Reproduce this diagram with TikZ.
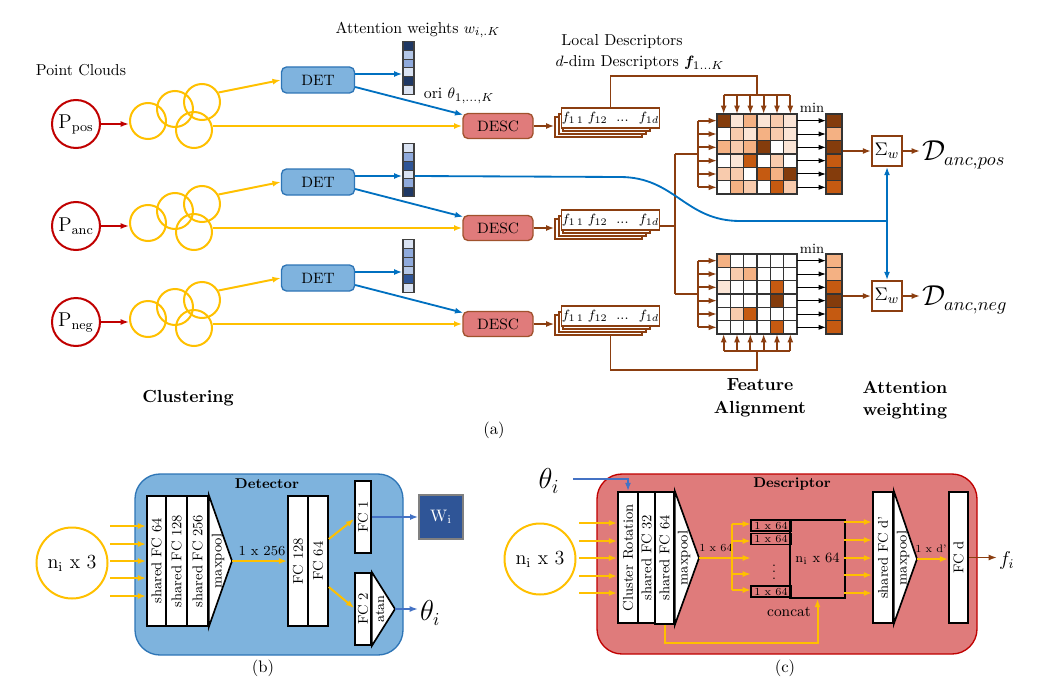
\documentclass[tikz,border=0pt]{standalone}
\usepackage{bm}
\usetikzlibrary{arrows.meta,calc}

% palette
\definecolor{cyel}{HTML}{FFC000}
\definecolor{cred}{HTML}{C00000}
\definecolor{cblue}{HTML}{0070C0}
\definecolor{cbluetwo}{HTML}{4472C4}
\definecolor{detfill}{HTML}{7FB3DE}
\definecolor{detline}{HTML}{2E75B6}
\definecolor{descfill}{HTML}{E07B7B}
\definecolor{descline}{HTML}{A0522D}
\definecolor{cbrown}{HTML}{8B3E10}
\definecolor{mx0}{HTML}{FFFFFF}
\definecolor{mx1}{HTML}{FBE5D6}
\definecolor{mx2}{HTML}{F8CBAD}
\definecolor{mx3}{HTML}{F4B183}
\definecolor{mx4}{HTML}{C55A11}
\definecolor{mx5}{HTML}{843C0C}
\definecolor{wt1}{HTML}{DAE3F3}
\definecolor{wt2}{HTML}{B4C7E7}
\definecolor{wt3}{HTML}{8FAADC}
\definecolor{wt4}{HTML}{2F5597}
\definecolor{wt5}{HTML}{1F3864}
\definecolor{panelb}{HTML}{7EB3DD}
\definecolor{panelr}{HTML}{DF7B7B}

\newcommand\pxu{0.6pt}
\newcommand\fsz[1]{\fontsize{#1}{#1}\selectfont}

\tikzset{
  every node/.style={font=\fsz{9.5}},
  arw/.style={-{Latex[length=5pt,width=3.6pt]}},
  yarr/.style={arw, draw=cyel, line width=1.2pt},
  yline/.style={draw=cyel, line width=1.2pt},
  rarr/.style={arw, draw=cred, line width=1.2pt},
  barr/.style={arw, draw=cblue, line width=1.1pt},
  bline/.style={draw=cblue, line width=1.1pt},
  btarr/.style={arw, draw=cbluetwo, line width=1.1pt},
  brarr/.style={arw, draw=cbrown, line width=1.1pt},
  brline/.style={draw=cbrown, line width=1.1pt},
  karr/.style={-{Latex[length=4.5pt,width=3.2pt]}, draw=black, line width=0.6pt},
  pcirc/.style={circle, draw=cred, line width=1.2pt, minimum size=48*\pxu, inner sep=0pt, font=\fsz{11.5}},
  clus/.style={circle, draw=cyel, line width=1.2pt, minimum size=36*\pxu, inner sep=0pt},
  detbox/.style={rectangle, rounded corners=3pt, draw=detline, fill=detfill, line width=0.8pt,
    minimum width=73*\pxu, minimum height=26*\pxu, font=\fsz{9}},
  descbox/.style={rectangle, rounded corners=3pt, draw=descline, fill=descfill, line width=0.8pt,
    minimum width=70*\pxu, minimum height=25*\pxu, font=\fsz{9}},
  stkbox/.style={draw=cbrown, fill=white, line width=0.7pt, minimum width=87*\pxu,
    minimum height=20*\pxu, inner sep=0pt},
  cellrule/.style={draw=black!75, line width=0.6pt},
  wbar/.style={draw=black!75, line width=0.7pt, minimum width=11*\pxu, minimum height=53*\pxu, inner sep=0pt},
  mgrid/.style={draw=black!80, line width=0.7pt},
  sigbox/.style={draw=cbrown, fill=white, line width=1pt, minimum size=30*\pxu, inner sep=0pt, font=\fsz{11}},
  panelbox/.style={rounded corners=15pt, line width=0.8pt, inner sep=0pt},
  blk/.style={draw=black, fill=white, line width=1pt, inner sep=0pt, font=\fsz{8.5}},
  tri/.style={draw=black, fill=white, line width=1pt, line join=miter},
  sbox/.style={draw=black, line width=0.8pt, minimum width=40*\pxu, minimum height=11*\pxu,
    inner sep=0pt, font=\fsz{6.5}},
  ncirc/.style={circle, draw=cyel, line width=1.2pt, minimum size=71*\pxu, inner sep=0pt, font=\fsz{12}},
  bold/.style={font=\bfseries\fontsize{10.5}{13.5}\selectfont, align=center}
}

% one input branch: point cloud, clustering, detector, descriptor, weight bar, descriptor stack
\newcommand\pipeline[4]{%
  \node[pcirc] (P#1) at (76,#2) {$\mathrm{P}_{\mathrm{#3}}$};
  \node[clus] (K#1a) at (148,#2-3) {};
  \node[clus] (K#1b) at (175,#2-15) {};
  \node[clus] (K#1c) at (202,#2-22) {};
  \node[clus] (K#1d) at (194,#2+6) {};
  \draw[rarr] (P#1.east) -- (P#1.east -| K#1a.west);
  \node[detbox] (det#1) at (318,#2-44) {DET};
  \node[descbox] (desc#1) at (498,#2+2) {DESC};
  \draw[yarr] (K#1c.30) -- (det#1.west);
  \draw[yarr] (K#1d.east |- desc#1.west) -- (desc#1.west);
  \foreach \wc [count=\kk] in {#4}
    \fill[\wc] (403,{#2-82.5+(\kk-1)*8.833}) rectangle ++(11,8.833);
  \foreach \kk in {1,...,5}
    \draw[cellrule] (403,{#2-82.5+\kk*8.833}) -- ++(11,0);
  \node[wbar] (w#1) at (408.5,#2-56) {};
  \coordinate (det#1o) at ($(det#1.east)+(0,-6)$);
  \draw[barr] (det#1o) -- (det#1o -| w#1.west);
  \draw[barr] ($(det#1.east)+(0,7)$) -- ($(desc#1.north west)+(1,2)$);
  \foreach \kk in {3,2,1}
    \node[stkbox] (stk#1\kk) at ($(610.5,#2-6)+(-4*\kk,3*\kk)$) {};
  \node[stkbox, font=\fsz{8.5}] (stk#1) at (610.5,#2-6) {$f_{1\,1}\;f_{12}$\; ... \;$f_{1d}$};
  \draw[brarr] (desc#1.east) -- (desc#1.east -| stk#13.west);
}

% 6x6 distance matrix
\newcommand\heatmap[4]{%
  \foreach \rw [count=\ri] in {#4} {
    \foreach \cc [count=\ci] in \rw {
      \fill[\cc] ({#2+(\ci-1)*13.333},{#3+(\ri-1)*13.333}) rectangle ++(13.333,13.333);
    }
  }
  \foreach \kk in {1,...,5} {
    \draw[mgrid] ({#2+\kk*13.333},#3) -- ++(0,80);
    \draw[mgrid] (#2,{#3+\kk*13.333}) -- ++(80,0);
  }
  \node[mgrid, minimum width=80*\pxu, minimum height=80*\pxu, inner sep=0pt] (#1) at (#2+40,#3+40) {};
}

% column of minima
\newcommand\colvec[4]{%
  \foreach \cc [count=\ci] in {#4}
    \fill[\cc] (#2,{#3+(\ci-1)*13.333}) rectangle ++(16,13.333);
  \foreach \kk in {1,...,5}
    \draw[mgrid] (#2,{#3+\kk*13.333}) -- ++(16,0);
  \node[mgrid, minimum width=16*\pxu, minimum height=80*\pxu, inner sep=0pt] (#1) at (#2+8,#3+40) {};
}

\begin{document}
\begin{tikzpicture}[x=0.6pt,y=-0.6pt]
\useasboundingbox (0,0) rectangle (1041,693);

% ---------------- (a) overview ----------------
\node (ptc) at (81,70) {Point Clouds};
\node (attl) at (418,30) {Attention weights $w_{i,.K}$};
\node (locl) at (622,42) {Local Descriptors};
\node (ddl) at (640,63) {$d$-dim Descriptors $\bm{f}_{1\dots K}$};

\pipeline{A}{124}{pos}{wt5,wt2,wt3,wt1,wt5,wt1}
\pipeline{B}{226}{anc}{wt1,wt3,wt4,wt1,wt3,wt5}
\pipeline{C}{322}{neg}{wt1,wt3,wt3,wt2,wt4,wt1}

\node[font=\fsz{9.5}] (oril) at (459,96) {ori $\theta_{1,\dots,K}$};

% feature alignment matrices
\heatmap{mA}{717}{114}{{mx5,mx1,mx3,mx1,mx2,mx1},{mx0,mx2,mx1,mx3,mx2,mx1},{mx3,mx2,mx3,mx5,mx0,mx1},{mx0,mx1,mx4,mx0,mx2,mx0},{mx2,mx2,mx0,mx4,mx3,mx5},{mx0,mx3,mx2,mx0,mx4,mx2}}
\heatmap{mC}{717}{254}{{mx3,mx0,mx0,mx0,mx0,mx0},{mx0,mx2,mx3,mx0,mx0,mx0},{mx1,mx0,mx0,mx0,mx4,mx0},{mx0,mx0,mx0,mx0,mx5,mx0},{mx0,mx2,mx4,mx0,mx0,mx0},{mx0,mx0,mx0,mx0,mx4,mx0}}
\colvec{vA}{826}{114}{mx5,mx3,mx5,mx4,mx5,mx4}
\colvec{vC}{826}{254}{mx3,mx3,mx4,mx5,mx4,mx4}

\node[font=\fsz{8.5}] (minA) at (812,108) {min};
\node[font=\fsz{8.5}] (minC) at (812,249) {min};
\foreach \kk in {1,...,6} {
  \draw[karr] (797,{114+(\kk-0.5)*13.333}) -- (826,{114+(\kk-0.5)*13.333});
  \draw[karr] (797,{254+(\kk-0.5)*13.333}) -- (826,{254+(\kk-0.5)*13.333});
}

% anchor descriptors to both matrices (rows)
\coordinate (brB) at (675,226);
\draw[brline] ($(stkB.east)+(0,6)$) -- (brB);
\draw[brline] (675,154) -- (675,294);
\draw[brline] (675,154) -- (698,154);
\draw[brline] (675,294) -- (698,294);
\draw[brline] (698,120.67) -- (698,187.33);
\draw[brline] (698,260.67) -- (698,327.33);
\foreach \kk in {1,...,6} {
  \draw[brarr] (698,{114+(\kk-0.5)*13.333}) -- (717,{114+(\kk-0.5)*13.333});
  \draw[brarr] (698,{254+(\kk-0.5)*13.333}) -- (717,{254+(\kk-0.5)*13.333});
}

% positive descriptors to top matrix (columns)
\coordinate (brA) at (757,95);
\draw[brline] (stkA.north) |- (757,76) -- (brA);
\draw[brline] (723.67,95) -- (790.33,95);
\foreach \kk in {1,...,6}
  \draw[brarr] ({717+(\kk-0.5)*13.333},95) -- ({717+(\kk-0.5)*13.333},114);

% negative descriptors to bottom matrix (columns)
\draw[brline] (stkC.north |- stkC3.south) |- (757,370) -- (757,351);
\draw[brline] (723.67,351) -- (790.33,351);
\foreach \kk in {1,...,6}
  \draw[brarr] ({717+(\kk-0.5)*13.333},351) -- ({717+(\kk-0.5)*13.333},334);

% attention weighting
\node[sigbox] (sA) at (887,151) {$\Sigma_w$};
\node[sigbox] (sC) at (887,296) {$\Sigma_w$};
\draw[brarr] (vA.east |- sA.west) -- (sA.west);
\draw[brarr] (vC.east |- sC.west) -- (sC.west);
\node[font=\fsz{16}, anchor=west, inner sep=1pt] (dA) at (920,155) {$\mathcal{D}_{anc,pos}$};
\node[font=\fsz{16}, anchor=west, inner sep=1pt] (dC) at (920,300) {$\mathcal{D}_{anc,neg}$};
\draw[brarr] (sA.east) -- (sA.east -| dA.west);
\draw[brarr] (sC.east) -- (sC.east -| dC.west);

\coordinate (jn) at (887,221);
\draw[bline] (wB.east |- detBo) -- (620,177) .. controls (675,177) and (685,221) .. (740,221) -- (jn);
\draw[barr] (jn) -- (sA.south);
\draw[barr] (jn) -- (sC.north);

\node[bold] (clu) at (188,398) {Clustering};
\node[bold] (fal) at (760,398) {Feature\\Alignment};
\node[bold] (awl) at (905,400) {Attention\\weighting};
\node[font=\fsz{10}] (capa) at (494,430) {(a)};

% ---------------- (b) detector ----------------
\node[panelbox, fill=panelb, draw=detline, minimum width=268*\pxu, minimum height=181*\pxu] (pb) at (269,564.5) {};
\node[font=\bfseries\fsz{8.5}] (pbt) at (267,484) {Detector};
\node[ncirc] (nB) at (72,563) {$\mathrm{n_i}$ x 3};

\node[blk, minimum width=19*\pxu, minimum height=130*\pxu] (bB1) at (156.5,561) {\rotatebox{90}{shared FC 64}};
\node[blk, minimum width=21*\pxu, minimum height=130*\pxu] (bB2) at (176.5,561) {\rotatebox{90}{shared FC 128}};
\node[blk, minimum width=21*\pxu, minimum height=130*\pxu] (bB3) at (197.5,561) {\rotatebox{90}{shared FC 256}};
\coordinate (apB) at (232,561);
\draw[tri] (bB3.north east) -- (apB) -- (bB3.south east) -- cycle;
\node[font=\fsz{8.5}] (mpB) at (218,561) {\rotatebox{90}{maxpool}};

\foreach \yy [count=\ii] in {526,544,561,578,596} {
  \coordinate (inB\ii) at (110,\yy);
  \draw[yarr] (inB\ii) -- (inB\ii -| bB1.west);
}

\node[blk, minimum width=20*\pxu, minimum height=130*\pxu] (fB1) at (298,561) {\rotatebox{90}{FC 128}};
\node[blk, minimum width=20*\pxu, minimum height=130*\pxu] (fB2) at (318,561) {\rotatebox{90}{FC 64}};
\draw[yarr] (apB) -- (fB1.west);
\node[font=\fsz{8.3}] (l256) at (262,551) {1 x 256};

\node[blk, minimum width=16*\pxu, minimum height=72*\pxu] (fc1) at (363,517) {\rotatebox{90}{FC 1}};
\node[blk, minimum width=16*\pxu, minimum height=72*\pxu] (fc2) at (363,609) {\rotatebox{90}{FC 2}};
\coordinate (apT) at (395,609);
\draw[tri] (fc2.north east) -- (apT) -- (fc2.south east) -- cycle;
\node[font=\fsz{8}] (atl) at (380,609) {\rotatebox{90}{atan}};
\draw[yarr] ($(fB2.east)+(0,-22)$) -- ($(fc1.west)+(0,2)$);
\draw[yarr] ($(fB2.east)+(0,26)$) -- ($(fc2.west)+(0,-1)$);

\node[draw=gray, line width=0.8pt, fill=wt4, minimum size=44*\pxu, text=white, font=\fsz{10}] (Wb) at (441,517) {$\mathrm{W_i}$};
\draw[btarr] (fc1.east) -- (Wb.west);
\node[font=\fsz{16}, anchor=west, inner sep=1pt] (thB) at (418,613) {$\theta_i$};
\draw[btarr] (apT) -- (apT -| thB.west);
\node[font=\fsz{10}] (capb) at (263,668) {(b)};

% ---------------- (c) descriptor ----------------
\node[panelbox, fill=panelr, draw=cred, minimum width=380*\pxu, minimum height=180*\pxu] (pc) at (787,564) {};
\node[font=\bfseries\fsz{8.5}] (pct) at (792,484) {Descriptor};
\node[font=\fsz{17}] (thC) at (549,481) {$\theta_i$};
\node[ncirc] (nC) at (540,559) {$\mathrm{n_i}$ x 3};

\node[blk, minimum width=20*\pxu, minimum height=131*\pxu] (cr) at (628,557.5) {\rotatebox{90}{Cluster Rotation}};
\node[blk, minimum width=17*\pxu, minimum height=131*\pxu] (s32) at (646.5,557.5) {\rotatebox{90}{shared FC 32}};
\node[blk, minimum width=19*\pxu, minimum height=132*\pxu] (s64) at (664.5,558) {\rotatebox{90}{shared FC 64}};
\coordinate (apC) at (699,558);
\draw[tri] (s64.north east) -- (apC) -- (s64.south east) -- cycle;
\node[font=\fsz{8.5}] (mpC) at (684,558) {\rotatebox{90}{maxpool}};

\coordinate (thCo) at (573,479);
\draw[btarr] (thCo) -| (cr.north);

\foreach \yy [count=\ii] in {523,541,558,576,593} {
  \coordinate (inC\ii) at (579,\yy);
  \draw[yarr] (inC\ii) -- (inC\ii -| cr.west);
}

\coordinate (brC) at (732,558);
\draw[yline] (apC) -- (brC);
\node[font=\fsz{6.5}] (l64) at (716,548) {1 x 64};
\draw[yline] (732,524) -- (732,590);
\foreach \yy [count=\ii] in {524,541,558,574,590} {
  \coordinate (bc\ii) at (732,\yy);
  \draw[yarr] (bc\ii) -- ++(19,0);
}
\node[sbox] (sb1) at (771,525.5) {1 x 64};
\node[sbox] (sb2) at (771,539) {1 x 64};
\node[sbox] (sb3) at (771,591.5) {1 x 64};
\node[font=\fsz{8}, inner sep=0pt] (vd) at (774,567) {$\vdots$};
\node[draw=black, line width=1pt, minimum width=53*\pxu, minimum height=78*\pxu, font=\fsz{8.5}] (big) at (817.5,559) {$\mathrm{n_i}$ x 64};
\node[font=\fsz{9}] (conc) at (789,612) {concat};
\draw[yarr] (s64.south) -- ++(0,18) -| (big.south);

\node[blk, minimum width=20*\pxu, minimum height=131*\pxu] (sfd) at (883,557.5) {\rotatebox{90}{shared FC d'}};
\coordinate (apD) at (917,559);
\draw[tri] (sfd.north east) -- (apD) -- (sfd.south east) -- cycle;
\node[font=\fsz{8.5}] (mpD) at (903,558) {\rotatebox{90}{maxpool}};

\foreach \yy [count=\ii] in {522,540,558,575,593} {
  \coordinate (oC\ii) at (844,\yy);
  \draw[yarr] (oC\ii) -- (oC\ii -| sfd.west);
}

\node[blk, minimum width=19*\pxu, minimum height=131*\pxu] (fcd) at (958.5,557.5) {\rotatebox{90}{FC d}};
\draw[yarr] (apD) -- (apD -| fcd.west);
\node[font=\fsz{6.5}] (ld) at (931,549) {1 x d'};
\node[font=\fsz{12}, anchor=west, inner sep=1pt] (fiC) at (997,560) {$f_i$};
\draw[brarr] (fcd.east) -- (fcd.east -| fiC.west);
\node[font=\fsz{10}] (capc) at (785,668) {(c)};

\end{tikzpicture}
\end{document}
